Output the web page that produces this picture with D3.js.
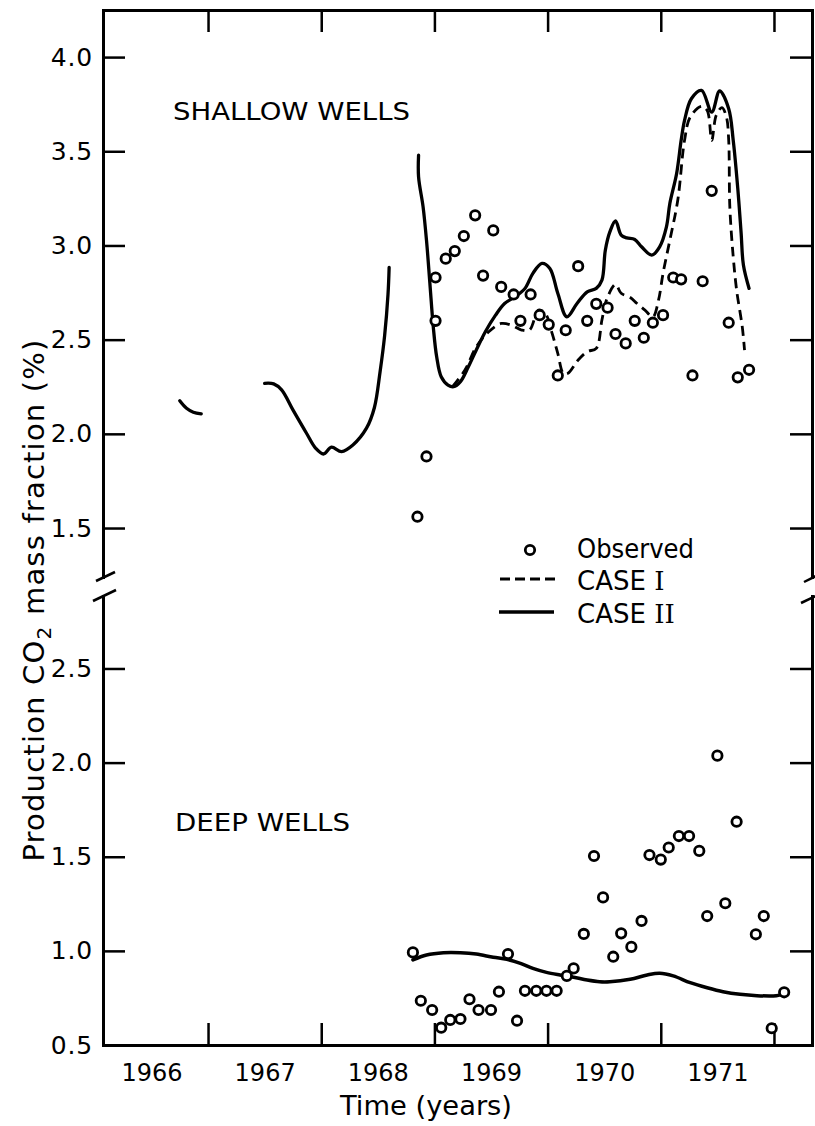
<!DOCTYPE html>
<html>
<head>
<meta charset="utf-8">
<script src="https://cdn.jsdelivr.net/npm/d3@7"></script>
<style>
  body { margin: 0; background: #fff; }
  svg { display: block; }
</style>
</head>
<body>
<svg id="chart" width="815" height="1126"></svg>
<script>
// ---- data ----
const yearTicks = [1967, 1968, 1969, 1970, 1971, 1972];
const yearLabels = [1966, 1967, 1968, 1969, 1970, 1971];
const shallowTicks = [1.5, 2.0, 2.5, 3.0, 3.5, 4.0];
const deepTicks = [0.5, 1.0, 1.5, 2.0, 2.5];

// shallow wells, observed [year, CO2 %]
const shallowObserved = [
  [1968.85, 1.56], [1968.93, 1.88], [1969.01, 2.83], [1969.01, 2.60], [1969.10, 2.93],
  [1969.18, 2.97], [1969.26, 3.05], [1969.36, 3.16], [1969.43, 2.84], [1969.52, 3.08],
  [1969.59, 2.78], [1969.70, 2.74], [1969.76, 2.60], [1969.85, 2.74], [1969.93, 2.63],
  [1970.01, 2.58], [1970.09, 2.31], [1970.16, 2.55], [1970.27, 2.89], [1970.35, 2.60],
  [1970.43, 2.69], [1970.53, 2.67], [1970.60, 2.53], [1970.69, 2.48], [1970.77, 2.60],
  [1970.85, 2.51], [1970.93, 2.59], [1971.02, 2.63], [1971.11, 2.83], [1971.18, 2.82],
  [1971.28, 2.31], [1971.37, 2.81], [1971.45, 3.29], [1971.60, 2.59], [1971.68, 2.30],
  [1971.78, 2.34]
];

// shallow wells, CASE I simulation
const shallowCaseI = [
  [1969.16, 2.250], [1969.27, 2.339], [1969.37, 2.462], [1969.48, 2.542], [1969.59, 2.586],
  [1969.68, 2.577], [1969.77, 2.551], [1969.84, 2.551], [1969.92, 2.657], [1969.98, 2.639],
  [1970.04, 2.533], [1970.09, 2.427], [1970.14, 2.321], [1970.18, 2.321], [1970.27, 2.392],
  [1970.35, 2.436], [1970.43, 2.454], [1970.48, 2.604], [1970.52, 2.710], [1970.60, 2.793],
  [1970.65, 2.746], [1970.73, 2.724], [1970.79, 2.692], [1970.86, 2.657], [1970.93, 2.621],
  [1970.98, 2.710], [1971.02, 2.852], [1971.08, 3.028], [1971.15, 3.240], [1971.21, 3.558],
  [1971.26, 3.682], [1971.36, 3.739], [1971.41, 3.717], [1971.45, 3.558], [1971.49, 3.691],
  [1971.54, 3.732], [1971.58, 3.682], [1971.60, 3.558], [1971.61, 3.205], [1971.64, 2.940],
  [1971.67, 2.763], [1971.72, 2.568], [1971.74, 2.445]
];

// shallow wells, CASE II simulation (three separate runs)
const shallowCaseII_1966 = [
  [1966.75, 2.176], [1966.81, 2.136], [1966.87, 2.115], [1966.94, 2.106]
];
const shallowCaseII_1967 = [
  [1967.50, 2.268], [1967.58, 2.265], [1967.65, 2.233], [1967.75, 2.127], [1967.87, 2.003],
  [1967.95, 1.924], [1968.02, 1.893], [1968.09, 1.929], [1968.18, 1.906], [1968.28, 1.941],
  [1968.40, 2.030], [1968.47, 2.140], [1968.52, 2.330], [1968.56, 2.520], [1968.59, 2.740],
  [1968.60, 2.883]
];
const shallowCaseII_1968 = [
  [1968.86, 3.479], [1968.86, 3.364], [1968.90, 3.205], [1968.93, 3.028], [1968.96, 2.799],
  [1968.99, 2.568], [1969.02, 2.409], [1969.06, 2.303], [1969.12, 2.259], [1969.17, 2.250],
  [1969.23, 2.277], [1969.30, 2.356], [1969.37, 2.445], [1969.45, 2.542], [1969.54, 2.630],
  [1969.62, 2.692], [1969.71, 2.727], [1969.80, 2.772], [1969.87, 2.852], [1969.95, 2.905],
  [1970.02, 2.878], [1970.09, 2.746], [1970.17, 2.621], [1970.26, 2.692], [1970.35, 2.754],
  [1970.43, 2.772], [1970.48, 2.816], [1970.51, 2.975], [1970.55, 3.072], [1970.60, 3.130],
  [1970.65, 3.055], [1970.70, 3.040], [1970.77, 3.032], [1970.83, 2.993], [1970.92, 2.949],
  [1970.99, 2.993], [1971.05, 3.099], [1971.08, 3.223], [1971.14, 3.382], [1971.18, 3.558],
  [1971.21, 3.664], [1971.27, 3.779], [1971.36, 3.823], [1971.45, 3.708], [1971.52, 3.820],
  [1971.60, 3.726], [1971.64, 3.558], [1971.68, 3.304], [1971.71, 3.064], [1971.73, 2.896],
  [1971.78, 2.772]
];

// deep wells, observed
const deepObserved = [
  [1968.81, 0.992], [1968.88, 0.735], [1968.98, 0.686], [1969.06, 0.592], [1969.14, 0.633],
  [1969.23, 0.638], [1969.31, 0.743], [1969.39, 0.686], [1969.50, 0.686], [1969.57, 0.783],
  [1969.65, 0.983], [1969.73, 0.629], [1969.80, 0.788], [1969.90, 0.788], [1969.99, 0.788],
  [1970.08, 0.788], [1970.17, 0.867], [1970.23, 0.907], [1970.32, 1.090], [1970.41, 1.504],
  [1970.49, 1.284], [1970.58, 0.969], [1970.65, 1.093], [1970.74, 1.021], [1970.83, 1.159],
  [1970.90, 1.509], [1971.00, 1.485], [1971.07, 1.549], [1971.16, 1.610], [1971.25, 1.610],
  [1971.34, 1.531], [1971.41, 1.185], [1971.50, 2.037], [1971.57, 1.253], [1971.67, 1.686],
  [1971.84, 1.088], [1971.91, 1.185], [1971.98, 0.589], [1972.09, 0.780]
];

// deep wells, CASE II simulation
const deepCaseII = [
  [1968.81, 0.952], [1968.93, 0.978], [1969.08, 0.990], [1969.23, 0.990], [1969.37, 0.983],
  [1969.52, 0.966], [1969.64, 0.955], [1969.76, 0.934], [1969.87, 0.907], [1969.99, 0.886],
  [1970.11, 0.872], [1970.23, 0.860], [1970.35, 0.845], [1970.46, 0.836], [1970.55, 0.836],
  [1970.73, 0.849], [1970.88, 0.872], [1970.99, 0.881], [1971.11, 0.867], [1971.26, 0.831],
  [1971.41, 0.804], [1971.55, 0.783], [1971.70, 0.769], [1971.85, 0.762], [1972.02, 0.762],
  [1972.06, 0.768]
];

// ---- layout ----
const svg = d3.select("#chart");
const font = "'DejaVu Sans', 'Liberation Sans', sans-serif";
const frame = { left: 103, right: 812, top: 10, bottom: 1045, breakTop: 577, breakBottom: 596 };

const x = d3.scaleLinear().domain([1966.072, 1972.336]).range([frame.left, frame.right]);
const yShallow = d3.scaleLinear().domain([1.24, 4.25]).range([frame.breakTop, frame.top]);
const yDeep = d3.scaleLinear().domain([0.5, 2.885]).range([frame.bottom, frame.breakBottom]);

function styleAxis(g) {
  g.select(".domain").attr("stroke", "#000").attr("stroke-width", 3).attr("stroke-linecap", "square");
  g.selectAll(".tick line").attr("stroke", "#000").attr("stroke-width", 2.5);
  g.selectAll("text").attr("font-family", font).attr("font-size", 25)
    .attr("letter-spacing", 0.8).attr("fill", "#000");
}

// left axes with labels
svg.append("g").attr("transform", `translate(${frame.left},0)`)
  .call(d3.axisLeft(yShallow).tickValues(shallowTicks).tickSize(-22).tickSizeOuter(0)
    .tickPadding(10).tickFormat(d3.format(".1f")))
  .call(styleAxis);
svg.append("g").attr("transform", `translate(${frame.left},0)`)
  .call(d3.axisLeft(yDeep).tickValues(deepTicks).tickSize(-22).tickSizeOuter(0)
    .tickPadding(10).tickFormat(d3.format(".1f")))
  .call(styleAxis);

// right axes, ticks only
svg.append("g").attr("transform", `translate(${frame.right},0)`)
  .call(d3.axisRight(yShallow).tickValues(shallowTicks).tickSize(-22).tickSizeOuter(0).tickFormat(""))
  .call(styleAxis);
svg.append("g").attr("transform", `translate(${frame.right},0)`)
  .call(d3.axisRight(yDeep).tickValues(deepTicks).tickSize(-22).tickSizeOuter(0).tickFormat(""))
  .call(styleAxis);

// top and bottom time axes
svg.append("g").attr("transform", `translate(0,${frame.top})`)
  .call(d3.axisTop(x).tickValues(yearTicks).tickSize(-22).tickSizeOuter(0).tickFormat(""))
  .call(styleAxis);
svg.append("g").attr("transform", `translate(0,${frame.bottom})`)
  .call(d3.axisBottom(x).tickValues(yearTicks).tickSize(-22).tickSizeOuter(0).tickFormat(""))
  .call(styleAxis);
const yearAxis = svg.append("g").attr("transform", `translate(0,${frame.bottom})`)
  .call(d3.axisBottom(x).tickValues(yearLabels.map(d => d + 0.5)).tickSize(0).tickPadding(19)
    .tickFormat(d => String(Math.floor(d))))
  .call(styleAxis);
yearAxis.select(".domain").remove();
yearAxis.selectAll("text").attr("font-size", 24).attr("letter-spacing", 0);

// axis break marks
const breakMarks = [
  [frame.left - 7, frame.breakTop + 4, frame.left + 12, frame.breakTop - 5],
  [frame.left - 10, frame.breakBottom + 5, frame.left + 13, frame.breakBottom - 6],
  [frame.right - 8, frame.breakTop + 5, frame.right + 4, frame.breakTop - 1],
  [frame.right - 11, frame.breakBottom + 7, frame.right + 4, frame.breakBottom]
];
svg.append("g").selectAll("line").data(breakMarks).join("line")
  .attr("x1", d => d[0]).attr("y1", d => d[1]).attr("x2", d => d[2]).attr("y2", d => d[3])
  .attr("stroke", "#000").attr("stroke-width", 2.5);

// ---- curves ----
const lineShallow = d3.line().x(d => x(d[0])).y(d => yShallow(d[1])).curve(d3.curveCatmullRom.alpha(0.5));
const lineDeep = d3.line().x(d => x(d[0])).y(d => yDeep(d[1])).curve(d3.curveCatmullRom.alpha(0.5));

svg.append("path").datum(shallowCaseI).attr("d", lineShallow)
  .attr("fill", "none").attr("stroke", "#000").attr("stroke-width", 2.8).attr("stroke-dasharray", "10,6");

[shallowCaseII_1966, shallowCaseII_1967, shallowCaseII_1968].forEach(seg => {
  svg.append("path").datum(seg).attr("d", lineShallow)
    .attr("fill", "none").attr("stroke", "#000").attr("stroke-width", 3.3)
    .attr("stroke-linejoin", "round").attr("stroke-linecap", "round");
});

svg.append("path").datum(deepCaseII).attr("d", lineDeep)
  .attr("fill", "none").attr("stroke", "#000").attr("stroke-width", 3.5)
  .attr("stroke-linejoin", "round").attr("stroke-linecap", "round");

// ---- observed points ----
function drawPoints(data, yScale) {
  svg.append("g").selectAll("circle").data(data).join("circle")
    .attr("cx", d => x(d[0])).attr("cy", d => yScale(d[1])).attr("r", 4.7)
    .attr("fill", "#fff").attr("stroke", "#000").attr("stroke-width", 2.8);
}
drawPoints(shallowObserved, yShallow);
drawPoints(deepObserved, yDeep);

// ---- labels ----
svg.append("text").attr("x", 173).attr("y", 120).attr("font-family", font).attr("font-size", 25)
  .attr("textLength", 237).attr("lengthAdjust", "spacingAndGlyphs").text("SHALLOW WELLS");
svg.append("text").attr("x", 175).attr("y", 831).attr("font-family", font).attr("font-size", 25)
  .attr("textLength", 175).attr("lengthAdjust", "spacingAndGlyphs").text("DEEP WELLS");

svg.append("text").attr("x", 426).attr("y", 1115).attr("text-anchor", "middle")
  .attr("font-family", font).attr("font-size", 26)
  .attr("textLength", 172).attr("lengthAdjust", "spacingAndGlyphs").text("Time (years)");

const yTitle = svg.append("text")
  .attr("transform", "translate(44,600) rotate(-90)")
  .attr("text-anchor", "middle").attr("font-family", font).attr("font-size", 29)
  .attr("letter-spacing", 1.2);
yTitle.append("tspan").text("Production CO");
yTitle.append("tspan").attr("font-size", 20).attr("dy", 7).text("2");
yTitle.append("tspan").attr("dy", -7).text(" mass fraction (%)");

// ---- legend ----
const legend = svg.append("g").attr("font-family", font).attr("font-size", 26);
legend.append("circle").attr("cx", 530).attr("cy", 550).attr("r", 4.7)
  .attr("fill", "#fff").attr("stroke", "#000").attr("stroke-width", 2.8);
legend.append("text").attr("x", 577).attr("y", 558)
  .attr("textLength", 117).attr("lengthAdjust", "spacingAndGlyphs").text("Observed");
legend.append("line").attr("x1", 500).attr("x2", 555).attr("y1", 579).attr("y2", 579)
  .attr("stroke", "#000").attr("stroke-width", 2.8).attr("stroke-dasharray", "10,5");
const c1 = legend.append("text").attr("x", 577).attr("y", 590);
c1.append("tspan").text("CASE ");
c1.append("tspan").attr("font-family", "'DejaVu Serif', 'Liberation Serif', serif").text("I");
legend.append("line").attr("x1", 499).attr("x2", 554).attr("y1", 612).attr("y2", 612)
  .attr("stroke", "#000").attr("stroke-width", 3.3);
const c2 = legend.append("text").attr("x", 577).attr("y", 623);
c2.append("tspan").text("CASE ");
c2.append("tspan").attr("font-family", "'DejaVu Serif', 'Liberation Serif', serif").text("II");
</script>
</body>
</html>
